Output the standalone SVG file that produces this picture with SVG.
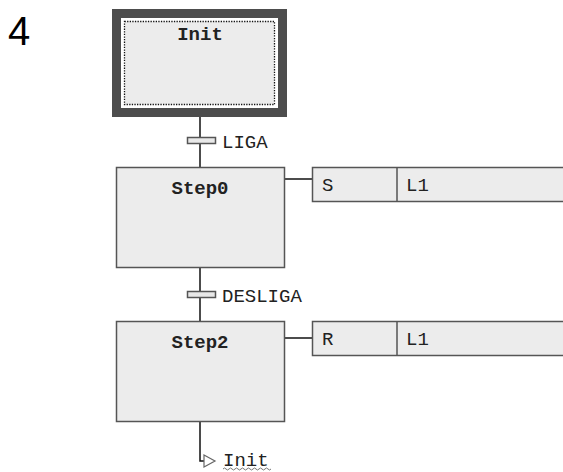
<svg xmlns="http://www.w3.org/2000/svg" width="563" height="472" viewBox="0 0 563 472">
<style>
.step{fill:#ececec;stroke:#555;stroke-width:1.5}
.lbl{font-family:"Liberation Mono","Courier New",monospace;font-size:19px;fill:#222}
.b{font-weight:bold;text-anchor:middle}
.ln{stroke:#111;stroke-width:1.5;fill:none}
.tr{fill:#e8e8e8;stroke:#555;stroke-width:1.5}
</style>
<rect width="563" height="472" fill="#fff"/>
<text x="8" y="45" font-family="Liberation Sans,Arial,sans-serif" font-size="40" fill="#000">4</text>
<g id="connectors">
<line class="ln" x1="200" y1="117" x2="200" y2="167"/>
<line class="ln" x1="200" y1="268" x2="200" y2="321"/>
<polyline class="ln" points="200,422 200,461 204,461"/>
<line class="ln" x1="285" y1="179" x2="312" y2="179"/>
<line class="ln" x1="285" y1="338" x2="312" y2="338"/>
</g>
<g id="init">
<rect x="112" y="9" width="175" height="108" fill="#4d4d4d"/>
<rect x="121" y="18" width="157" height="90" fill="#fff"/>
<rect x="124.5" y="21.5" width="150" height="83" fill="#ececec" stroke="#111" stroke-width="1.3" stroke-dasharray="1.3,1.3"/>
<text class="lbl b" x="200" y="40">Init</text>
</g>
<g id="t-liga">
<rect class="tr" x="187.5" y="137.5" width="28" height="6"/>
<text class="lbl" x="222" y="148">LIGA</text>
</g>
<g id="step0">
<rect class="step" x="116.5" y="167.5" width="168" height="100"/>
<text class="lbl b" x="200" y="194">Step0</text>
</g>
<g id="action0">
<rect class="step" x="312.5" y="167.5" width="260" height="34"/>
<line x1="397" y1="167.5" x2="397" y2="201.5" stroke="#555" stroke-width="1.5"/>
<text class="lbl" x="322" y="191">S</text>
<text class="lbl" x="406" y="191">L1</text>
</g>
<g id="t-desliga">
<rect class="tr" x="187.5" y="291.5" width="28" height="6"/>
<text class="lbl" x="222" y="302">DESLIGA</text>
</g>
<g id="step2">
<rect class="step" x="116.5" y="321.5" width="168" height="100"/>
<text class="lbl b" x="200" y="348">Step2</text>
</g>
<g id="action2">
<rect class="step" x="312.5" y="321.5" width="260" height="34"/>
<line x1="397" y1="321.5" x2="397" y2="355.5" stroke="#555" stroke-width="1.5"/>
<text class="lbl" x="322" y="345">R</text>
<text class="lbl" x="406" y="345">L1</text>
</g>
<g id="jump-init">
<polygon points="204,455 215,461 204,467" fill="#fff" stroke="#666" stroke-width="1.2"/>
<text class="lbl" x="223" y="466">Init</text>
<path d="M223,469 q1.5,-2 3,0 t3,0 t3,0 t3,0 t3,0 t3,0 t3,0 t3,0 t3,0 t3,0 t3,0 t3,0 t3,0 t3,0 t3,0 t3,0" fill="none" stroke="#777" stroke-width="1"/>
</g>
</svg>
